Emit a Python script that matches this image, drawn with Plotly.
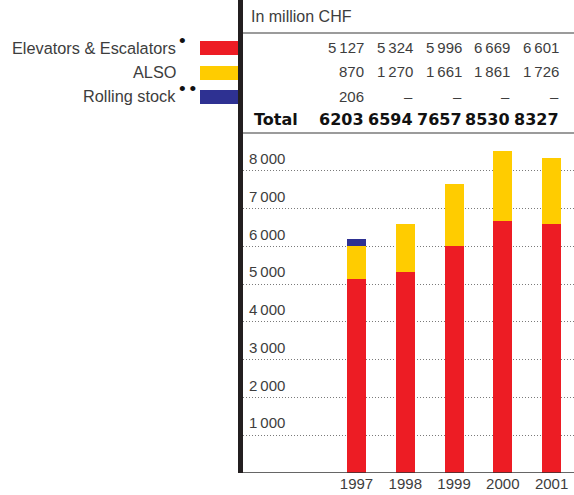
import plotly.graph_objects as go

# ---- data ----
years = ["1997", "1998", "1999", "2000", "2001"]
elevators = [5127, 5324, 5996, 6669, 6601]
also = [870, 1270, 1661, 1861, 1726]
rolling = [206, None, None, None, None]
totals = [6203, 6594, 7657, 8530, 8327]
series_names = ["Elevators & Escalators", "ALSO", "Rolling stock"]
series_marks = ["•", "", "•\u2009•"]
tick_vals = [1000, 2000, 3000, 4000, 5000, 6000, 7000, 8000]

RED = "#ED1C24"
YELLOW = "#FFCC00"
BLUE = "#2E3192"
TXT = "#3d3d3d"
colors = [RED, YELLOW, BLUE]

W, H = 574, 495
ML, MR, MT, MB = 240, 0, 0, 22
PW = W - ML - MR
PH = H - MT - MB
BARW = 0.39


def px(x):
    return (x - ML) / PW


def py(y):
    return (H - MB - y) / PH


def fmt(v):
    s = f"{v:,}".replace(",", "\u2009")
    return s


fig = go.Figure()
for name, vals, c in zip(series_names, [elevators, also, rolling], colors):
    fig.add_trace(go.Bar(x=years, y=vals, name=name, marker_color=c,
                         marker_line_width=0, width=BARW, showlegend=False,
                         hoverinfo="skip"))

fig.update_layout(
    width=W, height=H, barmode="stack",
    margin=dict(l=ML, r=MR, t=MT, b=MB, pad=0, autoexpand=False),
    paper_bgcolor="white", plot_bgcolor="white",
    font=dict(family="Liberation Sans, Arial, sans-serif", size=15, color=TXT),
    xaxis=dict(type="category", range=[-2.39, 4.46], showgrid=False,
               automargin=False,
               showline=False, zeroline=False, ticks="", 
               tickfont=dict(size=15, color=TXT)),
    yaxis=dict(range=[0, 12520], tickvals=tick_vals,
               ticktext=[fmt(v) for v in tick_vals],
               automargin=False,
               ticklabelposition="inside", ticklabelstandoff=6,
               ticklabelshift=-12,
               showgrid=True, gridcolor="#7a7a7a", griddash="1px,2px",
               gridwidth=1, zeroline=False, showline=False,
               tickfont=dict(size=15, color=TXT)),
)

shapes = []
# legend swatches
sw = [(41, 55), (66, 80), (90, 104)]
for (y0, y1), c in zip(sw, colors):
    shapes.append(dict(type="rect", xref="paper", yref="paper",
                       x0=px(200), x1=px(240), y0=py(y1), y1=py(y0),
                       fillcolor=c, line_width=0, layer="above"))
# horizontal rules in table
for yy in (33, 133):
    shapes.append(dict(type="line", xref="paper", yref="paper",
                       x0=px(243), x1=1, y0=py(yy), y1=py(yy),
                       line=dict(color="#7a7a7a", width=1.5)))
# baseline
shapes.append(dict(type="line", xref="paper", yref="y", x0=0, x1=1,
                   y0=0, y1=0, line=dict(color="#333333", width=1.6)))
# thick vertical line
shapes.append(dict(type="line", xref="paper", yref="paper",
                   x0=px(240.5), x1=px(240.5), y0=0, y1=1,
                   line=dict(color="#231f20", width=5)))
fig.update_layout(shapes=shapes)

ann = []
# legend labels
label_y = [47.5, 71.7, 95.7]
for name, mark, yy in zip(series_names, series_marks, label_y):
    ann.append(dict(text=name, xref="paper", yref="paper", x=px(178),
                    y=py(yy), xanchor="right", yanchor="middle",
                    showarrow=False, font=dict(size=16.3, color=TXT)))
    if mark:
        ann.append(dict(text=mark, xref="paper", yref="paper", x=px(176.5),
                        y=py(yy - 7), xanchor="left", yanchor="middle",
                        showarrow=False, font=dict(size=19, color="#111111")))

ann.append(dict(text="In million CHF", xref="paper", yref="paper",
                x=px(249), y=py(16.7), xanchor="left", yanchor="middle",
                showarrow=False, font=dict(size=16, color=TXT)))

row_y = [47.7, 71.7, 96.7]
for vals, yy in zip([elevators, also, rolling], row_y):
    for i, v in enumerate(vals):
        ann.append(dict(text=fmt(v) if v is not None else "–",
                        xref="x", yref="paper", x=i + BARW / 2, y=py(yy),
                        xanchor="right", yanchor="middle", showarrow=False,
                        font=dict(size=15, color=TXT)))

ann.append(dict(text="<b>Total</b>", xref="paper", yref="paper",
                x=px(252), y=py(119.3), xanchor="left", yanchor="middle",
                showarrow=False,
                font=dict(family="DejaVu Sans", size=16, color="#111111")))
for i, v in enumerate(totals):
    ann.append(dict(text=f"<b>{v}</b>", xref="x", yref="paper",
                    x=i + BARW / 2, y=py(119.3), xanchor="right",
                    yanchor="middle", showarrow=False,
                    font=dict(family="DejaVu Sans", size=16, color="#111111")))

fig.update_layout(annotations=ann)
fig.write_html("out.html",
               config={"displayModeBar": False, "staticPlot": True},
               post_script="document.body.style.margin='0';"
                           "document.body.style.overflow='hidden';")
